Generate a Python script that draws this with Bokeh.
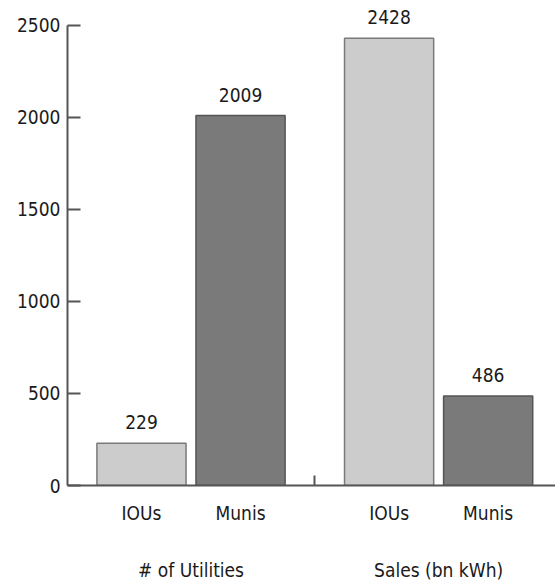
from bokeh.plotting import figure
from bokeh.models import ColumnDataSource, FixedTicker, LinearAxis, Range1d
from bokeh.embed import file_html
from bokeh.resources import INLINE
from bokeh.core.properties import value

groups = ["# of Utilities", "Sales (bn kWh)"]
categories = ["IOUs", "Munis"]
values = [[229, 2009], [2428, 486]]
y_ticks = [0, 500, 1000, 1500, 2000, 2500]

FONT = "DejaVu Sans Condensed"
TXT = "#1a1a1a"
fills = {"IOUs": "#cccccc", "Munis": "#7a7a7a"}
lines = {"IOUs": "#7a7a7a", "Munis": "#555555"}

GROUP_STEP = 2.5
xs, tops, labels, fc, lc = [], [], [], [], []
for gi, g in enumerate(groups):
    for ci, c in enumerate(categories):
        xs.append(gi * GROUP_STEP + ci)
        tops.append(values[gi][ci])
        labels.append(str(values[gi][ci]))
        fc.append(fills[c])
        lc.append(lines[c])
src = ColumnDataSource(dict(x=xs, top=tops, label=labels, fc=fc, lc=lc))

p = figure(width=555, height=583, output_backend="svg", toolbar_location=None,
           x_range=Range1d(-0.747, 4.18), y_range=Range1d(0, 2590),
           min_border_left=67, min_border_right=0, min_border_top=8, min_border_bottom=96,
           x_axis_type=None, y_axis_type=None)
p.outline_line_color = None
p.grid.visible = False
p.background_fill_color = "white"

p.vbar(x="x", top="top", width=0.9, bottom=0, source=src,
       fill_color="fc", line_color="lc", line_width=1.5)
p.text(x="x", y="top", text="label", source=src, text_align="center",
       text_baseline="bottom", y_offset=-14, text_font=value(FONT),
       text_font_size="19px", text_color=TXT)

# y axis
yax = LinearAxis(ticker=FixedTicker(ticks=y_ticks), bounds=(0, 2500))
yax.axis_line_color = "#555555"
yax.axis_line_width = 2
yax.major_tick_in = 13
yax.major_tick_out = 0
yax.major_tick_line_color = "#555555"
yax.major_tick_line_width = 2
yax.minor_tick_line_color = None
yax.major_label_standoff = 7
yax.major_label_text_font = FONT
yax.major_label_text_font_size = "19px"
yax.major_label_text_color = TXT
p.add_layout(yax, "left")

# x axis with category labels and divider tick
bar_x = xs
div_x = (xs[1] + xs[2]) / 2
xax = LinearAxis(ticker=FixedTicker(ticks=bar_x, minor_ticks=[div_x]))
xax.major_label_overrides = {x: categories[i % 2] for i, x in enumerate(bar_x)}
xax.axis_line_color = "#555555"
xax.axis_line_width = 2
xax.major_tick_line_color = None
xax.major_tick_in = 0
xax.major_tick_out = 0
xax.minor_tick_in = 10
xax.minor_tick_out = 0
xax.minor_tick_line_color = "#555555"
xax.minor_tick_line_width = 2
xax.major_label_standoff = 16
xax.major_label_text_font = FONT
xax.major_label_text_font_size = "19px"
xax.major_label_text_color = TXT
p.add_layout(xax, "below")

# group labels
gx = [gi * GROUP_STEP + (len(categories) - 1) / 2 for gi in range(len(groups))]
gax = LinearAxis(ticker=FixedTicker(ticks=gx))
gax.major_label_overrides = {x: groups[i] for i, x in enumerate(gx)}
gax.axis_line_color = None
gax.major_tick_line_color = None
gax.minor_tick_line_color = None
gax.major_tick_in = 0
gax.major_tick_out = 0
gax.major_label_standoff = 32
gax.major_label_text_font = FONT
gax.major_label_text_font_size = "19px"
gax.major_label_text_color = TXT
p.add_layout(gax, "below")

open("out.html", "w").write(file_html(p, INLINE))
